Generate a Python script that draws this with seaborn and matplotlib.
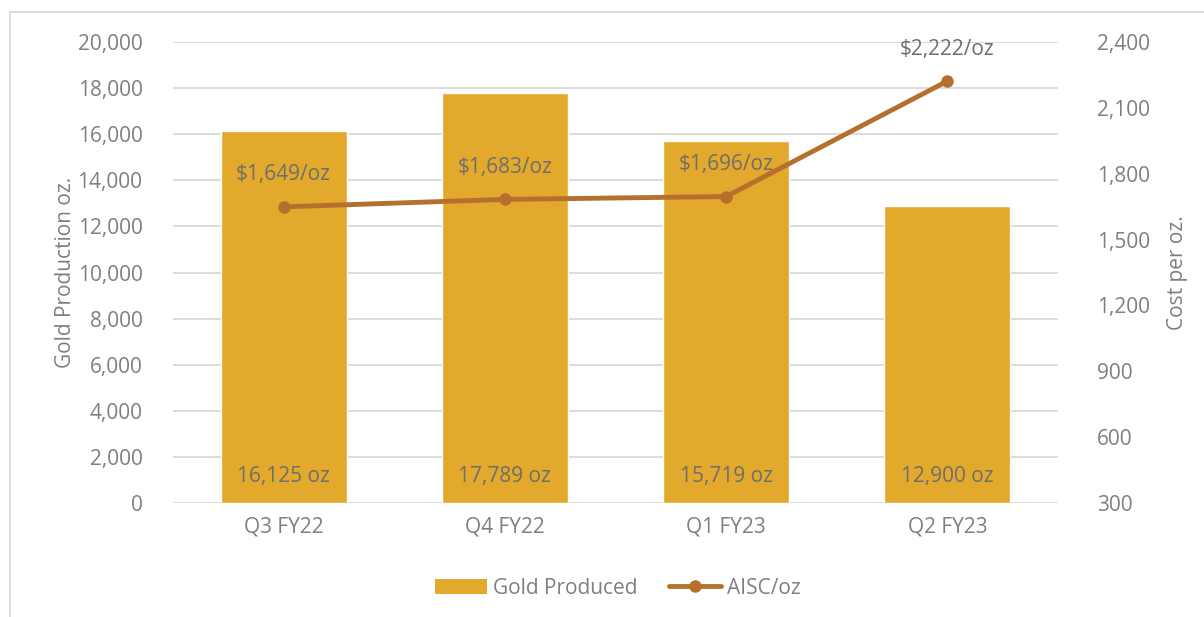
import matplotlib
matplotlib.use("Agg")
import matplotlib.pyplot as plt
import seaborn as sns
import pandas as pd
from matplotlib.patches import Rectangle
from matplotlib.lines import Line2D
from matplotlib.patches import Patch

categories = ["Q3 FY22", "Q4 FY22", "Q1 FY23", "Q2 FY23"]
gold_produced = [16125, 17789, 15719, 12900]
aisc = [1649, 1683, 1696, 2222]
left_ticks = [0, 2000, 4000, 6000, 8000, 10000, 12000, 14000, 16000, 18000, 20000]
right_ticks = [300, 600, 900, 1200, 1500, 1800, 2100, 2400]

sns.set_theme(style="white")
plt.rcParams['font.family'] = ['Open Sans', 'DejaVu Sans']

BAR = "#E3A92D"
LINE = "#B5702E"
TXT = "#7F7F7F"
LBL = "#6E6E6E"
GRID = "#D9D9D9"
FS = 15

df = pd.DataFrame({"cat": categories, "gold": gold_produced, "aisc": aisc})

fig = plt.figure(figsize=(12.04, 6.17), dpi=100)
ax = fig.add_axes([173/1204, 1-503/617, (1058-173)/1204, (503-42)/617])

sns.barplot(data=df, x="cat", y="gold", color=BAR, width=0.57, saturation=1, ax=ax, zorder=2)
ax.set_ylim(0, 20000)
ax.set_yticks(left_ticks)
ax.set_yticklabels([f"{v:,}" for v in left_ticks])
ax.set_xlim(-0.5, 3.5)
ax.grid(axis="y", color=GRID, lw=1.3, zorder=0)
ax.set_axisbelow(True)
for s in ax.spines.values():
    s.set_visible(False)
ax.tick_params(axis="both", length=0, labelsize=FS, labelcolor=TXT, pad=10)
ax.tick_params(axis="y", pad=22)
ax.set_xlabel("")
ax.set_ylabel("Gold Production oz.", fontsize=FS, color=TXT, labelpad=1)

for i, v in enumerate(gold_produced):
    ax.text(i, 1150, f"{v:,} oz", ha="center", va="center", fontsize=FS, color=LBL, zorder=5)

ax2 = ax.twinx()
sns.lineplot(x=list(range(len(categories))), y=aisc, ax=ax2, color=LINE, lw=3.5,
             marker="o", markersize=9, markeredgewidth=0, zorder=4)
ax2.set_ylim(300, 2400)
ax2.set_yticks(right_ticks)
ax2.set_yticklabels([f"{v:,}" for v in right_ticks])
for s in ax2.spines.values():
    s.set_visible(False)
ax2.tick_params(axis="y", length=0, labelsize=FS, labelcolor=TXT, pad=28)
ax2.set_ylabel("Cost per oz.", fontsize=FS, color=TXT, labelpad=12)
ax2.grid(False)

for i, v in enumerate(aisc):
    ax2.annotate(f"${v:,}/oz", (i, v), xytext=(0, 32), textcoords="offset pixels",
                 ha="center", va="center", fontsize=FS, color=LBL, zorder=6)

handles = [Patch(facecolor=BAR, edgecolor="none"),
           Line2D([0], [0], color=LINE, lw=3.5, marker="o", markersize=9, markeredgewidth=0)]
fig.legend(handles, ["Gold Produced", "AISC/oz"], loc="center", bbox_to_anchor=(618/1204, 1-588/617),
           ncol=2, frameon=False, fontsize=FS, labelcolor=TXT, handlelength=2.5,
           handletextpad=0.3, columnspacing=1.5)

fig.patches.append(Rectangle((10/1204, -0.05), 1.1, 1-12/617+0.05, transform=fig.transFigure,
                             fill=False, edgecolor="#D9D9D9", lw=1.3, zorder=0))

fig.savefig("out.png", dpi=100, facecolor="white")
